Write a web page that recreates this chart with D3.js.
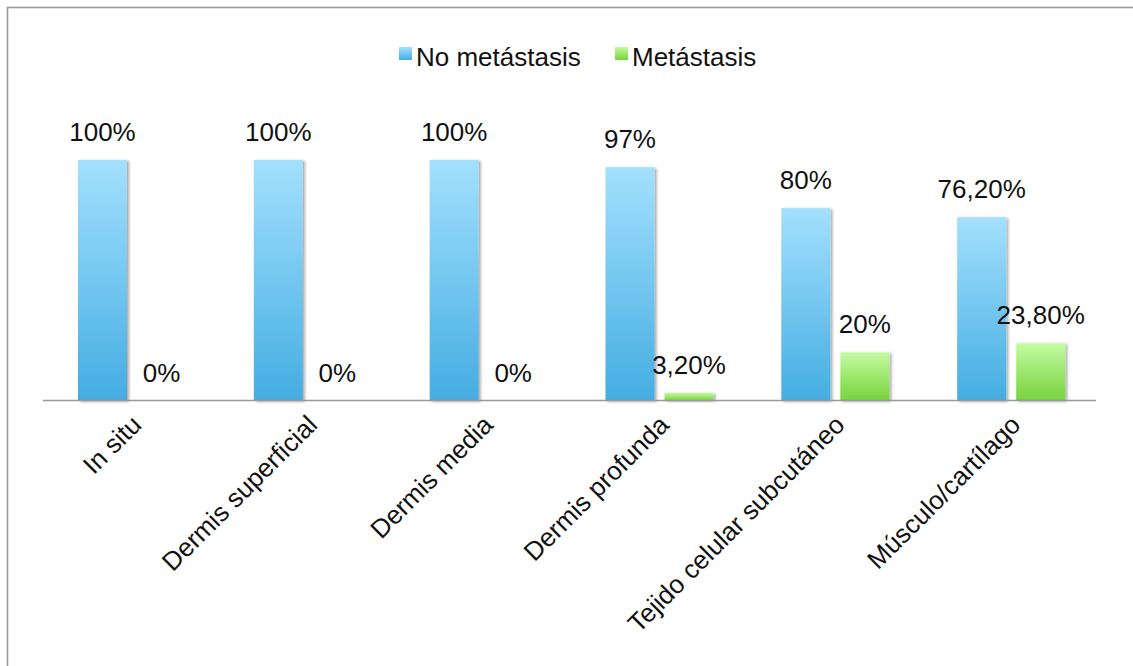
<!DOCTYPE html>
<html>
<head>
<meta charset="utf-8">
<script src="https://cdn.jsdelivr.net/npm/d3@7"></script>
<style>
  html, body { margin: 0; padding: 0; background: #fff; }
  svg { display: block; }
  text { font-family: "Liberation Sans", Arial, Helvetica, sans-serif; fill: #111; }
</style>
</head>
<body>
<div id="chart"></div>
<script>
// Distribution by depth of invasion
const categories = ["In situ", "Dermis superficial", "Dermis media", "Dermis profunda", "Tejido celular subcutáneo", "Músculo/cartílago"];
const series = ["No metástasis", "Metástasis"];
const noMetastasis = [100, 100, 100, 97, 80, 76.2];
const metastasis = [0, 0, 0, 3.2, 20, 23.8];
const valueLabels = [
  ["100%", "100%", "100%", "97%", "80%", "76,20%"],
  ["0%", "0%", "0%", "3,20%", "20%", "23,80%"]
];

const W = 1133, H = 666;
const svg = d3.select("#chart").append("svg").attr("width", W).attr("height", H);
const defs = svg.append("defs");

// Bar fills: light at the top, deeper at the base
const grads = [
  { id: "gBlue", top: "#a3e0fd", bottom: "#44ade2" },
  { id: "gGreen", top: "#c4fba2", bottom: "#76d33a" }
];
grads.forEach(g => {
  const lg = defs.append("linearGradient").attr("id", g.id)
    .attr("x1", 0).attr("y1", 0).attr("x2", 0).attr("y2", 1);
  lg.append("stop").attr("offset", "0%").attr("stop-color", g.top);
  lg.append("stop").attr("offset", "100%").attr("stop-color", g.bottom);
});
const shadow = defs.append("filter").attr("id", "barShadow")
  .attr("x", "-20%").attr("y", "-20%").attr("width", "140%").attr("height", "140%");
shadow.append("feDropShadow").attr("dx", 2).attr("dy", 1)
  .attr("stdDeviation", 1.6).attr("flood-color", "#000").attr("flood-opacity", 0.35);

// Frame
svg.append("rect").attr("x", 7.5).attr("y", 7.5).attr("width", W + 20).attr("height", H + 20)
  .attr("fill", "none").attr("stroke", "#9a9a9a").attr("stroke-width", 1.6);

// Scales
const x0 = d3.scaleBand().domain(categories).range([44, 1099]);
const x1 = d3.scaleBand().domain(series).range([34, 142]).paddingInner(0.17);
const y = d3.scaleLinear().domain([0, 100]).range([400.5, 160]);

const data = [noMetastasis, metastasis];
const fills = ["url(#gBlue)", "url(#gGreen)"];

series.forEach((s, si) => {
  const g = svg.append("g");
  g.selectAll("rect").data(data[si]).join("rect")
    .attr("x", (d, i) => x0(categories[i]) + x1(s))
    .attr("y", d => y(d))
    .attr("width", x1.bandwidth())
    .attr("height", d => y(0) - y(d))
    .attr("fill", fills[si])
    .attr("filter", "url(#barShadow)");
  g.selectAll("text").data(data[si]).join("text")
    .attr("x", (d, i) => x0(categories[i]) + x1(s) + x1.bandwidth() / 2)
    .attr("y", d => y(d) - 19)
    .attr("text-anchor", "middle")
    .style("font-size", "26px")
    .text((d, i) => valueLabels[si][i]);
});

// Baseline and category labels
const xAxis = svg.append("g").attr("transform", `translate(0,${y(0)})`)
  .call(d3.axisBottom(x0).tickSize(0).tickPadding(0));
xAxis.select(".domain").attr("stroke", "#999").attr("stroke-width", 1.6)
  .attr("d", "M43,0H1096");
xAxis.selectAll(".tick text")
  .attr("text-anchor", "end")
  .attr("dy", null)
  .attr("y", null)
  .attr("transform", "translate(11,26) rotate(-45)")
  .style("font-size", "26px")
  .style("font-family", "'Liberation Sans', Arial, sans-serif")
  .attr("fill", "#111");

// Legend
const legend = svg.append("g");
const legendItems = [
  { label: series[0], fill: "url(#gBlue)", x: 399 },
  { label: series[1], fill: "url(#gGreen)", x: 615 }
];
legendItems.forEach(it => {
  legend.append("rect").attr("x", it.x).attr("y", 47).attr("width", 13).attr("height", 13)
    .attr("fill", it.fill);
  legend.append("text").attr("x", it.x + 17).attr("y", 66)
    .style("font-size", "26px").text(it.label);
});
</script>
</body>
</html>
